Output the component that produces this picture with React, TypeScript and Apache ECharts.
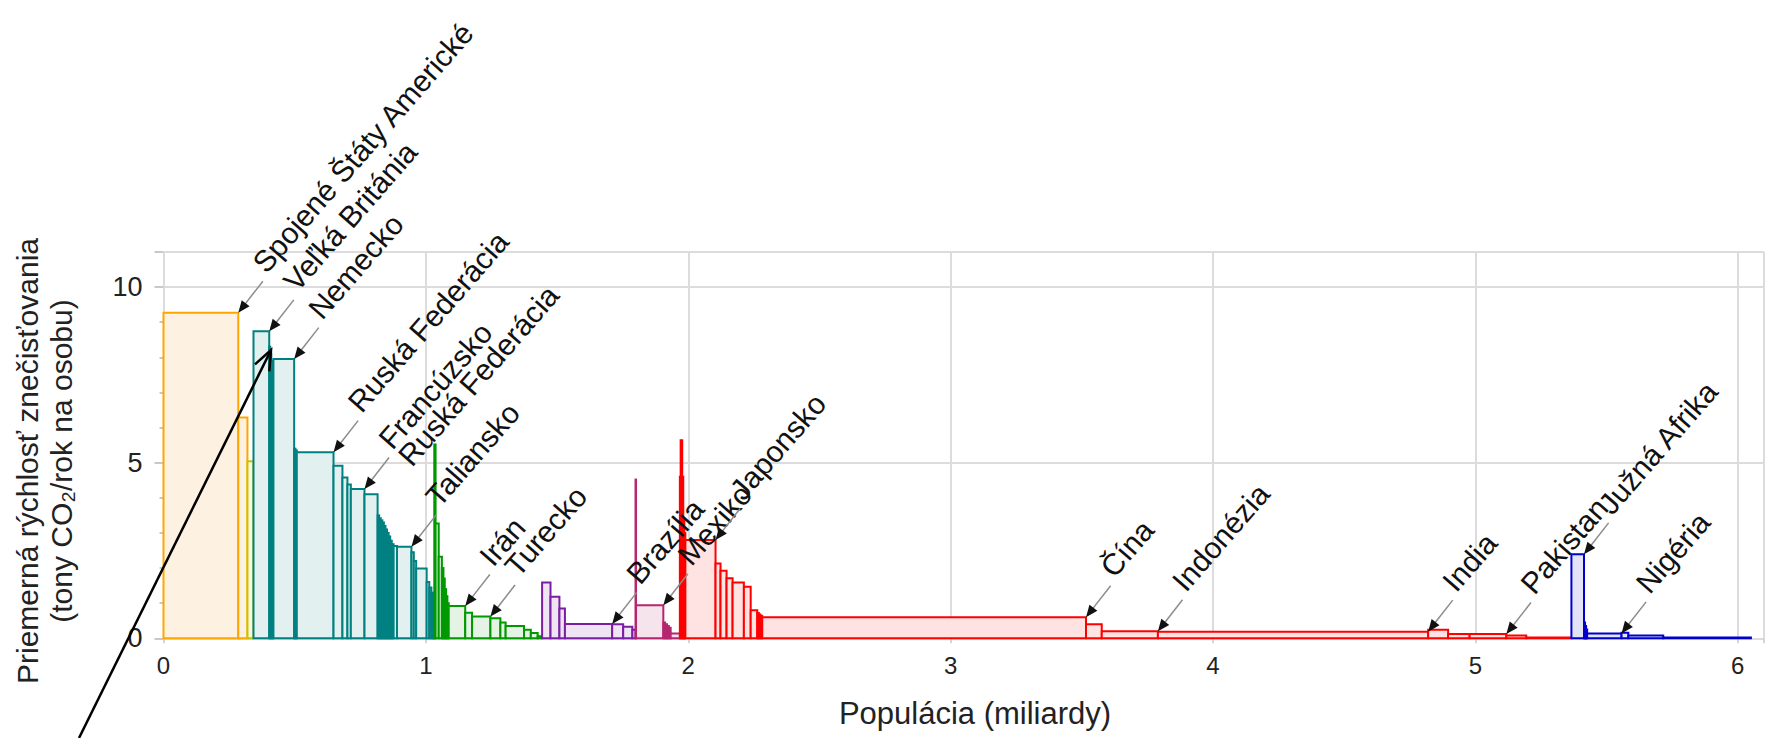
import React, { useEffect, useRef } from "react";
import * as echarts from "echarts";

// ---- data: population widths (billions) and per-capita values per region ----
const northAmericaPop = [0.285, 0.035];
const northAmericaCO2 = [9.27, 6.29];
const oceaniaPop = [0.023];
const oceaniaCO2 = [5.04];
const europePop = [0.06, 0.004, 0.004, 0.004, 0.004, 0.079, 0.005, 0.005, 0.14, 0.034, 0.019, 0.013, 0.052, 0.05,
  0.006, 0.006, 0.006, 0.006, 0.006, 0.006, 0.006, 0.006, 0.006, 0.007, 0.013, 0.055, 0.009, 0.009, 0.04, 0.01, 0.008, 0.006, 0.005];
const europeCO2 = [8.74, 8.3, 8.1, 7.9, 7.7, 7.95, 5.4, 5.35, 5.3, 4.91, 4.58, 4.38, 4.25, 4.1,
  3.5, 3.42, 3.36, 3.3, 3.2, 3.1, 3.0, 2.9, 2.78, 2.68, 2.63, 2.61, 2.45, 2.2, 1.99, 1.6, 1.45, 1.3, 1.1];
const middleEastPop = [0.005, 0.012, 0.012, 0.006, 0.005, 0.005, 0.005, 0.005, 0.063, 0.026, 0.07, 0.038, 0.02, 0.07, 0.026, 0.026, 0.017];
const middleEastCO2 = [5.52, 3.27, 2.32, 2.0, 1.7, 1.4, 1.2, 1.0, 0.92, 0.73, 0.62, 0.57, 0.45, 0.35, 0.24, 0.15, 0.06];
const southAmericaPop = [0.032, 0.034, 0.021, 0.18, 0.042, 0.035, 0.012];
const southAmericaCO2 = [1.59, 1.18, 0.85, 0.41, 0.4, 0.33, 0.24];
const centralAmericaPop = [0.002, 0.104, 0.007, 0.007, 0.007, 0.007, 0.035];
const centralAmericaCO2 = [4.52, 0.94, 0.45, 0.4, 0.35, 0.3, 0.14];
const asiaPop = [0.003, 0.006, 0.004, 0.004, 0.004, 0.115, 0.019, 0.023, 0.023, 0.043, 0.026, 0.025, 0.006, 0.006, 0.007,
  1.234, 0.06, 0.214, 1.03, 0.076, 0.082, 0.14, 0.076, 0.172];
const asiaCO2 = [4.6, 5.64, 4.6, 3.4, 3.0, 2.8, 2.13, 1.92, 1.71, 1.59, 1.47, 0.8, 0.72, 0.68, 0.64,
  0.6, 0.4, 0.2, 0.19, 0.24, 0.12, 0.12, 0.08, 0.02];
const africaPop = [0.048, 0.004, 0.004, 0.004, 0.131, 0.026, 0.133, 0.334];
const africaCO2 = [2.39, 0.45, 0.35, 0.25, 0.14, 0.16, 0.08, 0.02];

// ---- annotations (tip point in data coords) ----
const labelNames = ["Spojené Štáty Americké", "Veľká Británia", "Nemecko", "Ruská Federácia", "Francúzsko", "Ruská Federácia",
  "Taliansko", "Irán", "Turecko", "Brazília", "Mexiko", "Japonsko", "Čína", "Indonézia", "India", "Pakistan", "Južná Afrika", "Nigéria"];
const labelX = [0.285, 0.403, 0.498, 0.648, 0.766, 0.84, 0.945, 1.15, 1.246, 1.71, 1.905, 2.104, 3.516, 3.79, 4.82, 5.118, 5.414, 5.557];
const labelY = [9.27, 8.74, 7.95, 5.3, 4.25, 3.77, 2.61, 0.92, 0.62, 0.41, 0.94, 2.8, 0.6, 0.2, 0.19, 0.12, 2.39, 0.14];
const labelArrow = [1, 1, 1, 1, 1, 0, 1, 1, 1, 1, 1, 1, 1, 1, 1, 1, 1, 1];

const xTicks = [0, 1, 2, 3, 4, 5, 6];
const yTicks = [0, 5, 10];

const regions = [
  { pop: northAmericaPop, co2: northAmericaCO2, stroke: "#ffa500", fill: "#fdf2e2" },
  { pop: oceaniaPop, co2: oceaniaCO2, stroke: "#c9c400", fill: "#f7f6df" },
  { pop: europePop, co2: europeCO2, stroke: "#008080", fill: "#e3f0f0" },
  { pop: middleEastPop, co2: middleEastCO2, stroke: "#009900", fill: "#e5f3e5" },
  { pop: southAmericaPop, co2: southAmericaCO2, stroke: "#7b1fa2", fill: "#eee4f3" },
  { pop: centralAmericaPop, co2: centralAmericaCO2, stroke: "#b5266f", fill: "#f5e4ec" },
  { pop: asiaPop, co2: asiaCO2, stroke: "#ff0000", fill: "#ffe3e3" },
  { pop: africaPop, co2: africaCO2, stroke: "#0000cc", fill: "#e3e3f6" },
];

const FONT = '"Liberation Sans", Arial, sans-serif';

export default function App() {
  const ref = useRef<HTMLDivElement>(null);
  useEffect(() => {
    if (!ref.current) return;
    const chart = echarts.init(ref.current, null, { renderer: "svg" });

    let cum = 0;
    const barSeries: any[] = regions.map((r) => {
      const data = r.pop.map((w, i) => {
        const x0 = cum;
        cum += w;
        return [x0, cum, r.co2[i]];
      });
      return {
        type: "custom",
        clip: false,
        z: 2,
        encode: { x: [0, 1], y: 2 },
        data,
        renderItem: (params: any, api: any) => {
          const p0 = api.coord([api.value(0), api.value(2)]);
          const p1 = api.coord([api.value(1), 0]);
          return {
            type: "rect",
            shape: { x: p0[0], y: p0[1], width: p1[0] - p0[0], height: p1[1] - p0[1] },
            style: { fill: r.fill, stroke: r.stroke, lineWidth: 2 },
          };
        },
      };
    });

    const ang = (49 * Math.PI) / 180;
    const labelData = labelNames.map((n, i) => [labelX[i], labelY[i], i]);
    const labelSeries = {
      type: "custom",
      clip: false,
      z: 5,
      encode: { x: 0, y: 1 },
      data: labelData,
      renderItem: (params: any, api: any) => {
        const i = api.value(2);
        const p = api.coord([api.value(0), api.value(1)]);
        const ux = 0.615, uy = -0.788;
        const nx = 0.788, ny = 0.615;
        const children: any[] = [];
        if (labelArrow[i]) {
          children.push({
            type: "line",
            shape: { x1: p[0] + ux * 9, y1: p[1] + uy * 9, x2: p[0] + ux * 40, y2: p[1] + uy * 40 },
            style: { stroke: "#8c8c8c", lineWidth: 1.5 },
          });
          const bx = p[0] + ux * 12, by = p[1] + uy * 12;
          children.push({
            type: "polygon",
            shape: { points: [[p[0], p[1]], [bx + nx * 5, by + ny * 5], [bx - nx * 5, by - ny * 5]] },
            style: { fill: "#111" },
          });
        }
        const sx = p[0] + 27 - 9 * Math.sin(ang);
        const sy = p[1] - 39 - 9 * Math.cos(ang);
        children.push({
          type: "text",
          x: sx,
          y: sy,
          rotation: ang,
          style: { text: labelNames[i], fontSize: 30, fontFamily: FONT, fill: "#111", align: "left", verticalAlign: "middle" },
        });
        return { type: "group", children };
      },
    };

    // big black overlay arrow
    const ax0 = 79, ay0 = 738, ax1 = 271, ay1 = 350;
    const dlen = Math.hypot(ax1 - ax0, ay1 - ay0);
    const dx = (ax1 - ax0) / dlen, dy = (ay1 - ay0) / dlen;
    const bx = ax1 - dx * 20, by = ay1 - dy * 20;
    const nx = -dy, ny = dx;

    chart.setOption({
      animation: false,
      backgroundColor: "#ffffff",
      grid: { left: 163.5, right: 15, top: 252, bottom: 99.7, outerBoundsMode: "none" },
      xAxis: {
        type: "value",
        min: 0,
        max: 6.1,
        interval: 1,
        axisLine: { show: false },
        axisTick: { show: true, length: 5, lineStyle: { color: "#c8c8c8", width: 1.5 } },
        axisLabel: {
          fontSize: 24,
          fontFamily: FONT,
          color: "#222",
          margin: 15,
          formatter: (v: number) => (xTicks.includes(v) ? String(v) : ""),
        },
        splitLine: { show: true, lineStyle: { color: "#dcdcdc", width: 2 } },
      },
      yAxis: {
        type: "value",
        min: 0,
        max: 11,
        interval: 5,
        axisLine: { show: false },
        axisTick: { show: true, length: 9, lineStyle: { color: "#c8c8c8", width: 2 } },
        minorTick: { show: true, splitNumber: 5, length: 4, lineStyle: { color: "#c8c8c8", width: 2 } },
        axisLabel: {
          fontSize: 27,
          fontFamily: FONT,
          color: "#222",
          margin: 21,
          formatter: (v: number) => (yTicks.includes(v) ? String(v) : ""),
        },
        splitLine: { show: true, lineStyle: { color: "#dcdcdc", width: 2 } },
      },
      graphic: [
        {
          type: "text",
          x: 975,
          y: 713,
          style: { text: "Populácia (miliardy)", fontSize: 31, fontFamily: FONT, fill: "#222", align: "center", verticalAlign: "middle" },
        },
        {
          type: "text",
          x: 44,
          y: 461,
          rotation: Math.PI / 2,
          style: {
            text: "Priemerná rýchlosť znečisťovania\n(tony CO₂/rok na osobu)",
            fontSize: 30,
            lineHeight: 34,
            fontFamily: FONT,
            fill: "#222",
            align: "center",
            verticalAlign: "middle",
          },
        },
        {
          type: "line",
          z: 100,
          shape: { x1: ax0, y1: ay0, x2: ax1, y2: ay1 },
          style: { stroke: "#000", lineWidth: 2.5 },
        },
        {
          type: "polyline",
          z: 100,
          shape: { points: [[bx + nx * 8, by + ny * 8], [ax1, ay1], [bx - nx * 8, by - ny * 8]] },
          style: { stroke: "#000", lineWidth: 2.5, fill: null },
        },
      ],
      series: [...barSeries, labelSeries],
    });

    return () => chart.dispose();
  }, []);

  return (
    <div
      ref={ref}
      style={{ position: "fixed", left: 0, top: 0, width: 1779, height: 738, background: "#fff" }}
    />
  );
}
